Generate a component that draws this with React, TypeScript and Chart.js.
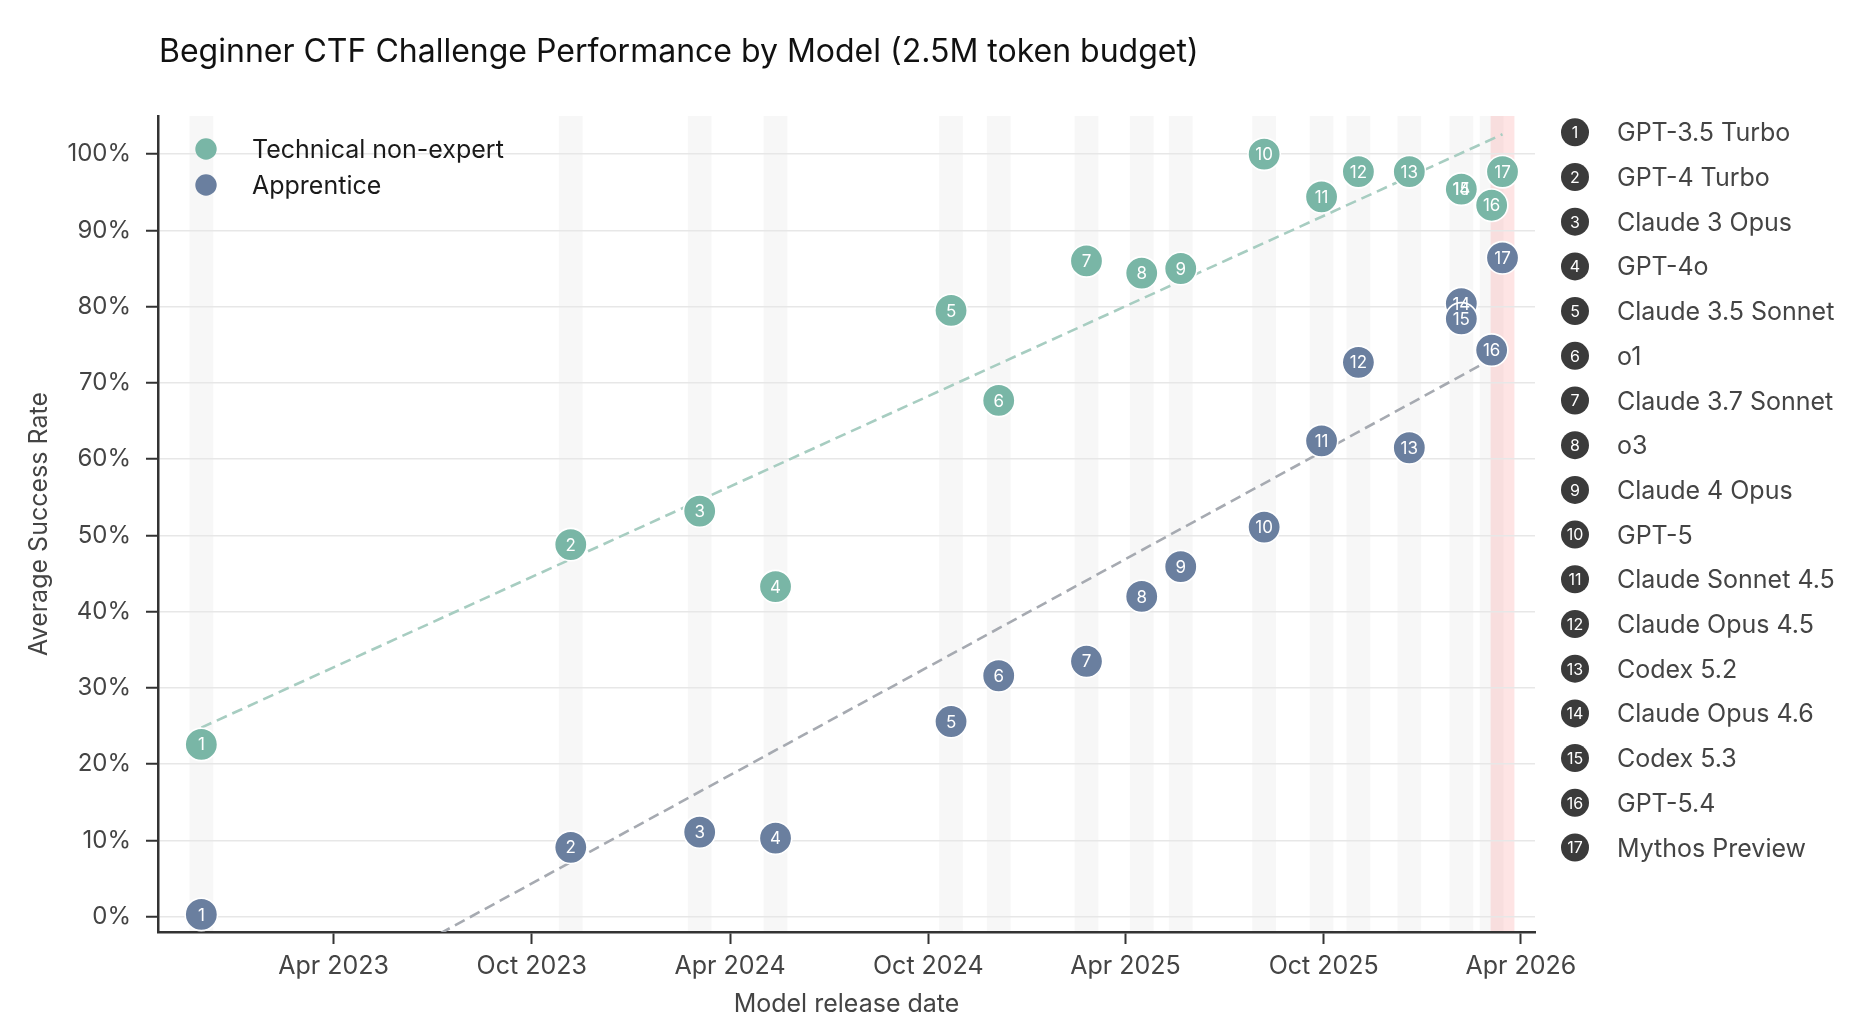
import React, { useEffect, useRef } from 'react';
import { Chart, registerables } from 'chart.js';

Chart.register(...registerables);

// ---------------- data ----------------
const chartTitle = 'Beginner CTF Challenge Performance by Model (2.5M token budget)';
const xAxisTitle = 'Model release date';
const yAxisTitle = 'Average Success Rate';
const seriesNames = ['Technical non-expert', 'Apprentice'];

const models = [
  'GPT-3.5 Turbo',
  'GPT-4 Turbo',
  'Claude 3 Opus',
  'GPT-4o',
  'Claude 3.5 Sonnet',
  'o1',
  'Claude 3.7 Sonnet',
  'o3',
  'Claude 4 Opus',
  'GPT-5',
  'Claude Sonnet 4.5',
  'Claude Opus 4.5',
  'Codex 5.2',
  'Claude Opus 4.6',
  'Codex 5.3',
  'GPT-5.4',
  'Mythos Preview',
];

const releaseDates = [
  '2022-11-30',
  '2023-11-06',
  '2024-03-04',
  '2024-05-13',
  '2024-10-22',
  '2024-12-05',
  '2025-02-24',
  '2025-04-16',
  '2025-05-22',
  '2025-08-07',
  '2025-09-29',
  '2025-11-02',
  '2025-12-19',
  '2026-02-05',
  '2026-02-05',
  '2026-03-05',
  '2026-03-15',
];

const nonExpertRates = [22.6, 48.8, 53.2, 43.3, 79.5, 67.7, 86.0, 84.4, 85.0, 100.0, 94.4, 97.7, 97.7, 95.4, 95.4, 93.3, 97.7];
const apprenticeRates = [0.3, 9.1, 11.1, 10.3, 25.6, 31.6, 33.5, 42.0, 45.9, 51.1, 62.4, 72.7, 61.5, 80.4, 78.4, 74.3, 86.4];

// trend lines: value at first and last release date
const nonExpertTrend = [24.8, 102.6];
const apprenticeTrend = [-19.3, 73.9];

const highlightedModel = 'Mythos Preview';

const xTickDates = ['2023-04-01', '2023-10-01', '2024-04-01', '2024-10-01', '2025-04-01', '2025-10-01', '2026-04-01'];
const xTickLabels = ['Apr 2023', 'Oct 2023', 'Apr 2024', 'Oct 2024', 'Apr 2025', 'Oct 2025', 'Apr 2026'];
const yTickValues = [0, 10, 20, 30, 40, 50, 60, 70, 80, 90, 100];
const xRange = ['2022-10-21', '2026-04-14'];
const yRange = [-2, 105];

// ---------------- styling ----------------
const FONT = 'Inter, "Noto Sans", sans-serif';
const GREEN = '#79b6a6';
const BLUE = '#6a7f9f';
const GREEN_TREND = '#a7cdc1';
const GREY_TREND = '#a6aab1';
const DARK = '#3b3b3b';
const DAY = 86400000;

const ts = (d: string) => Date.parse(d + 'T00:00:00Z');

const bandsPlugin = {
  id: 'releaseBands',
  beforeDraw(chart: any) {
    const { ctx, chartArea, scales } = chart;
    const x = scales.x;
    ctx.save();
    const seen = new Set<string>();
    releaseDates.forEach((d, i) => {
      if (seen.has(d)) return;
      seen.add(d);
      const t = ts(d);
      const l = x.getPixelForValue(t - 11 * DAY);
      const r = x.getPixelForValue(t + 11 * DAY);
      ctx.fillStyle = models[i] === highlightedModel ? 'rgba(248, 120, 120, 0.2)' : 'rgba(0, 0, 0, 0.032)';
      ctx.fillRect(l, chartArea.top, r - l, chartArea.bottom - chartArea.top);
    });
    ctx.restore();
  },
};

const pointLabelsPlugin = {
  id: 'pointLabels',
  afterDatasetsDraw(chart: any) {
    const { ctx } = chart;
    ctx.save();
    ctx.fillStyle = '#ffffff';
    ctx.font = `17px ${FONT}`;
    ctx.textAlign = 'center';
    ctx.textBaseline = 'alphabetic';
    [0, 1].forEach((di) => {
      const meta = chart.getDatasetMeta(di);
      meta.data.forEach((pt: any, i: number) => {
        ctx.fillText(String(i + 1), pt.x, pt.y + 6.1);
      });
    });
    ctx.restore();
  },
};

const textPlugin = {
  id: 'textDecor',
  afterDraw(chart: any) {
    const { ctx, chartArea } = chart;
    ctx.save();
    // title
    ctx.fillStyle = '#111111';
    ctx.font = `32px ${FONT}`;
    ctx.textAlign = 'left';
    ctx.textBaseline = 'alphabetic';
    ctx.fillText(chartTitle, 159, 62);

    // axis titles
    ctx.fillStyle = '#444444';
    ctx.font = `25px ${FONT}`;
    ctx.textAlign = 'center';
    ctx.fillText(xAxisTitle, (chartArea.left + chartArea.right) / 2, 1012);
    ctx.save();
    ctx.translate(47, (chartArea.top + chartArea.bottom) / 2);
    ctx.rotate(-Math.PI / 2);
    ctx.fillText(yAxisTitle, 0, 0);
    ctx.restore();

    // in-plot series legend
    const colors = [GREEN, BLUE];
    seriesNames.forEach((name, i) => {
      const cy = 149 + i * 36;
      ctx.beginPath();
      ctx.arc(206, cy, 10.7, 0, Math.PI * 2);
      ctx.fillStyle = colors[i];
      ctx.fill();
      ctx.fillStyle = '#1a1a1a';
      ctx.font = `25px ${FONT}`;
      ctx.textAlign = 'left';
      ctx.fillText(name, 252, cy + 8.6);
    });

    // right model legend
    models.forEach((m, i) => {
      const cy = 132.3 + i * 44.7;
      ctx.beginPath();
      ctx.arc(1575, cy, 14, 0, Math.PI * 2);
      ctx.fillStyle = DARK;
      ctx.fill();
      ctx.fillStyle = '#ffffff';
      ctx.font = `16px ${FONT}`;
      ctx.textAlign = 'center';
      ctx.fillText(String(i + 1), 1575, cy + 5.8);
      ctx.fillStyle = '#444444';
      ctx.font = `25px ${FONT}`;
      ctx.textAlign = 'left';
      ctx.fillText(m, 1617, cy + 9);
    });
    ctx.restore();
  },
};

export default function App() {
  const ref = useRef<HTMLCanvasElement | null>(null);

  useEffect(() => {
    document.body.style.margin = '0';
    const canvas = ref.current!;
    const first = ts(releaseDates[0]);
    const last = ts(releaseDates[releaseDates.length - 1]);

    const chart = new Chart(canvas, {
      type: 'scatter',
      data: {
        datasets: [
          {
            label: seriesNames[0],
            data: releaseDates.map((d, i) => ({ x: ts(d), y: nonExpertRates[i] })),
            pointStyle: 'circle',
            pointRadius: 16.2,
            pointBorderWidth: 1.6,
            pointBorderColor: '#ffffff',
            pointBackgroundColor: GREEN,
            backgroundColor: GREEN,
          },
          {
            label: seriesNames[1],
            data: releaseDates.map((d, i) => ({ x: ts(d), y: apprenticeRates[i] })),
            pointStyle: 'circle',
            pointRadius: 16.2,
            pointBorderWidth: 1.6,
            pointBorderColor: '#ffffff',
            pointBackgroundColor: BLUE,
            backgroundColor: BLUE,
          },
          {
            type: 'line',
            label: seriesNames[0] + ' trend',
            data: [
              { x: first, y: nonExpertTrend[0] },
              { x: last, y: nonExpertTrend[1] },
            ],
            borderColor: GREEN_TREND,
            borderWidth: 2.6,
            borderDash: [11, 6],
            pointRadius: 0,
            fill: false,
          } as any,
          {
            type: 'line',
            label: seriesNames[1] + ' trend',
            data: [
              { x: first, y: apprenticeTrend[0] },
              { x: last, y: apprenticeTrend[1] },
            ],
            borderColor: GREY_TREND,
            borderWidth: 2.6,
            borderDash: [11, 6],
            pointRadius: 0,
            fill: false,
          } as any,
        ],
      },
      options: {
        animation: false,
        responsive: false,
        events: [],
        layout: { padding: { top: 116, right: 333, left: 0, bottom: 0 } },
        plugins: {
          legend: { display: false },
          tooltip: { enabled: false },
          title: { display: false },
        },
        scales: {
          x: {
            type: 'linear',
            min: ts(xRange[0]),
            max: ts(xRange[1]),
            afterFit: (s: any) => {
              s.height = 102;
            },
            afterBuildTicks: (s: any) => {
              s.ticks = xTickDates.map((d) => ({ value: ts(d) }));
            },
            ticks: {
              callback: (_v: any, i: number) => xTickLabels[i],
              font: { family: FONT, size: 25 },
              color: '#444444',
              padding: 7,
              maxRotation: 0,
              autoSkip: false,
            },
            grid: {
              drawOnChartArea: false,
              drawTicks: true,
              tickLength: 12,
              tickColor: '#333333',
              tickWidth: 2,
            },
            border: { display: true, color: '#333333', width: 2.5 },
          },
          y: {
            type: 'linear',
            min: yRange[0],
            max: yRange[1],
            afterFit: (s: any) => {
              s.width = 158;
            },
            afterBuildTicks: (s: any) => {
              s.ticks = yTickValues.map((v) => ({ value: v }));
            },
            ticks: {
              callback: (v: any) => `${v}%`,
              font: { family: FONT, size: 24 },
              color: '#444444',
              padding: 15,
            },
            grid: {
              color: '#e7e7e7',
              lineWidth: 1.5,
              drawTicks: true,
              tickLength: 12,
              tickColor: '#333333',
              tickWidth: 2,
            },
            border: { display: true, color: '#333333', width: 2.5 },
          },
        },
      },
      plugins: [bandsPlugin, pointLabelsPlugin, textPlugin],
    });

    return () => {
      chart.destroy();
    };
  }, []);

  return (
    <div style={{ width: 1868, height: 1034, background: '#ffffff' }}>
      <canvas ref={ref} width={1868} height={1034} style={{ display: 'block', width: 1868, height: 1034 }} />
    </div>
  );
}
